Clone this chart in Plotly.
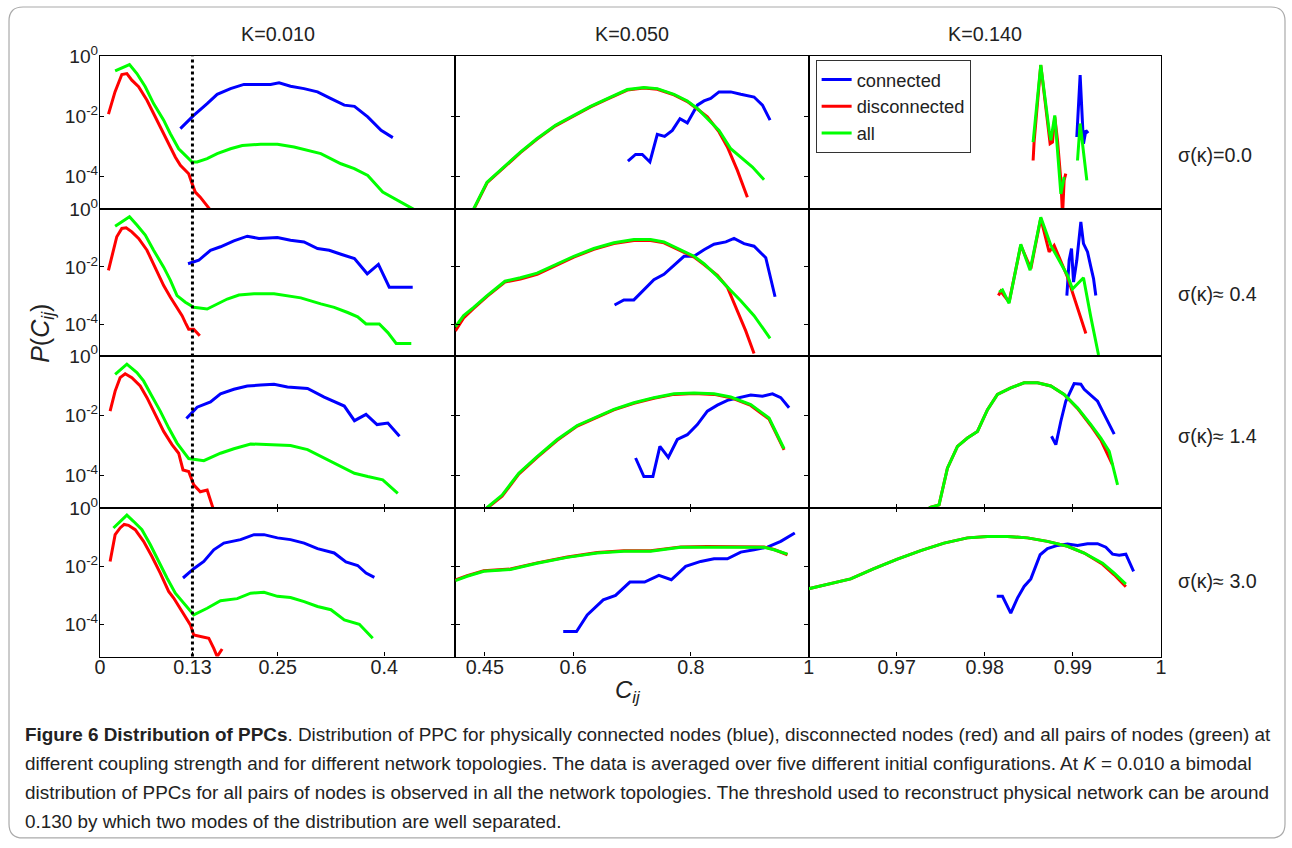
import plotly.graph_objects as go
from plotly.subplots import make_subplots

# ---------------- data (C_ij, log10 P(C_ij)) ----------------
# K = 0.010
k1_s0_blue_c = [0.113, 0.1318, 0.1507, 0.1648, 0.1836, 0.2024, 0.226, 0.240, 0.2519, 0.268, 0.287, 0.306, 0.325, 0.3437, 0.358, 0.3767, 0.3955, 0.412]
k1_s0_blue_lp = [-2.41, -1.97, -1.58, -1.27, -1.08, -0.94, -0.94, -0.94, -0.89, -1.0, -1.08, -1.19, -1.41, -1.63, -1.67, -2.02, -2.47, -2.71]
k1_s0_red_c = [0.0118, 0.021, 0.0306, 0.0377, 0.0447, 0.0542, 0.066, 0.0777, 0.0895, 0.0965, 0.106, 0.113, 0.120, 0.1247, 0.1295, 0.134, 0.141, 0.148, 0.155, 0.162]
k1_s0_red_lp = [-1.93, -1.19, -0.61, -0.58, -0.80, -1.02, -1.47, -2.02, -2.58, -2.91, -3.36, -3.63, -3.80, -3.91, -4.24, -4.52, -4.69, -4.91, -5.11, -5.4]
k1_s0_green_c = [0.0212, 0.0414, 0.0518, 0.0636, 0.0753, 0.0895, 0.0989, 0.1106, 0.120, 0.1295, 0.1366, 0.1507, 0.1648, 0.1836, 0.2001, 0.226, 0.2496, 0.273, 0.3107, 0.339, 0.3578, 0.3767, 0.3978, 0.4237, 0.4426, 0.452]
k1_s0_green_lp = [-0.49, -0.28, -0.58, -1.02, -1.58, -2.13, -2.58, -3.08, -3.30, -3.52, -3.52, -3.41, -3.24, -3.08, -2.97, -2.93, -2.93, -3.02, -3.24, -3.58, -3.74, -3.97, -4.52, -4.86, -5.11, -5.3]

k1_s1_blue_c = [0.1238, 0.1389, 0.1554, 0.1695, 0.1883, 0.2072, 0.2236, 0.2495, 0.268, 0.287, 0.306, 0.3225, 0.339, 0.358, 0.376, 0.3917, 0.407, 0.440]
k1_s1_blue_lp = [-1.89, -1.77, -1.42, -1.30, -1.09, -0.93, -1.01, -0.98, -1.07, -1.13, -1.36, -1.42, -1.56, -1.71, -2.24, -1.91, -2.71, -2.71]
k1_s1_red_c = [0.0118, 0.0188, 0.0235, 0.0306, 0.0367, 0.0447, 0.0542, 0.066, 0.0777, 0.0895, 0.099, 0.1083, 0.1154, 0.120, 0.1247, 0.1318, 0.1403]
k1_s1_red_lp = [-2.12, -1.42, -0.95, -0.66, -0.64, -0.78, -1.01, -1.42, -2.01, -2.65, -3.06, -3.41, -3.70, -3.94, -4.17, -4.17, -4.40]
k1_s1_green_c = [0.0212, 0.0414, 0.0518, 0.0636, 0.0753, 0.0895, 0.099, 0.1083, 0.120, 0.1318, 0.1507, 0.1648, 0.179, 0.1954, 0.2166, 0.2448, 0.2637, 0.2825, 0.3107, 0.3295, 0.3484, 0.3625, 0.3743, 0.393, 0.405, 0.4167, 0.438]
k1_s1_green_lp = [-0.58, -0.25, -0.54, -0.89, -1.42, -2.01, -2.47, -3.0, -3.23, -3.41, -3.47, -3.29, -3.12, -2.98, -2.94, -2.94, -3.0, -3.08, -3.29, -3.41, -3.59, -3.74, -3.99, -3.99, -4.29, -4.67, -4.67]

k1_s2_blue_c = [0.1215, 0.1366, 0.1554, 0.1695, 0.1883, 0.2072, 0.226, 0.2448, 0.2637, 0.292, 0.3154, 0.3437, 0.358, 0.3743, 0.3898, 0.405, 0.4214]
k1_s2_blue_lp = [-2.10, -1.72, -1.54, -1.27, -1.12, -1.01, -0.98, -0.95, -1.04, -1.09, -1.38, -1.68, -2.17, -1.96, -2.30, -2.25, -2.69]
k1_s2_red_c = [0.0141, 0.0212, 0.0282, 0.0353, 0.0447, 0.0565, 0.066, 0.0777, 0.0895, 0.1012, 0.1106, 0.1167, 0.1247, 0.1318, 0.141, 0.1507, 0.160, 0.163]
k1_s2_red_lp = [-1.85, -1.18, -0.73, -0.60, -0.73, -1.01, -1.40, -1.96, -2.53, -2.97, -3.26, -3.82, -3.87, -4.32, -4.55, -4.49, -5.11, -5.4]
k1_s2_green_c = [0.0212, 0.0377, 0.0518, 0.0612, 0.073, 0.0847, 0.0965, 0.1083, 0.1247, 0.146, 0.1695, 0.1883, 0.2119, 0.2354, 0.268, 0.292, 0.3154, 0.339, 0.358, 0.3767, 0.3978, 0.419]
k1_s2_green_lp = [-0.62, -0.28, -0.56, -0.84, -1.35, -1.85, -2.41, -2.92, -3.44, -3.51, -3.26, -3.11, -2.95, -2.97, -3.0, -3.14, -3.42, -3.70, -3.93, -4.04, -4.15, -4.60]

k1_s3_blue_c = [0.1167, 0.1318, 0.146, 0.160, 0.1742, 0.1977, 0.2166, 0.2307, 0.2496, 0.268, 0.2872, 0.306, 0.3295, 0.346, 0.3625, 0.3743, 0.386]
k1_s3_blue_lp = [-2.40, -2.08, -1.83, -1.43, -1.20, -1.08, -0.91, -0.91, -1.02, -1.08, -1.20, -1.39, -1.54, -1.85, -1.97, -2.23, -2.38]
k1_s3_red_c = [0.0141, 0.0212, 0.0282, 0.0339, 0.04, 0.0494, 0.0612, 0.073, 0.0847, 0.0965, 0.1036, 0.113, 0.12, 0.1271, 0.1318, 0.1412, 0.153, 0.160, 0.1648, 0.1718]
k1_s3_red_lp = [-1.83, -0.91, -0.68, -0.56, -0.59, -0.74, -1.14, -1.66, -2.23, -2.86, -3.09, -3.44, -3.72, -4.01, -4.36, -4.41, -4.47, -4.82, -5.10, -4.84]
k1_s3_green_c = [0.0188, 0.0377, 0.047, 0.0589, 0.0706, 0.0824, 0.0942, 0.1059, 0.1177, 0.1318, 0.1507, 0.1695, 0.193, 0.2119, 0.2307, 0.2496, 0.268, 0.2872, 0.306, 0.3249, 0.3437, 0.3649, 0.3837]
k1_s3_green_lp = [-0.68, -0.24, -0.45, -0.74, -1.25, -1.83, -2.40, -2.92, -3.26, -3.67, -3.44, -3.18, -3.11, -2.92, -2.89, -3.03, -3.07, -3.21, -3.38, -3.49, -3.84, -3.99, -4.47]

# K = 0.050
k2_s0_blue_c = [0.6931, 0.7061, 0.7175, 0.7304, 0.743, 0.7554, 0.7685, 0.7815, 0.794, 0.811, 0.8223, 0.8337, 0.8478, 0.8677, 0.8847, 0.9073, 0.9216, 0.9345]
k2_s0_blue_lp = [-3.49, -3.27, -3.27, -3.52, -2.60, -2.67, -2.47, -2.08, -2.22, -1.63, -1.49, -1.41, -1.19, -1.19, -1.27, -1.36, -1.63, -2.13]
k2_s0_red_c = [0.425, 0.4311, 0.4539, 0.4822, 0.5105, 0.5389, 0.570, 0.6012, 0.6296, 0.658, 0.692, 0.7202, 0.743, 0.7713, 0.794, 0.811, 0.828, 0.8478, 0.862, 0.879, 0.896]
k2_s0_red_lp = [-5.4, -5.10, -4.21, -3.71, -3.21, -2.76, -2.32, -1.99, -1.69, -1.43, -1.13, -1.06, -1.10, -1.29, -1.51, -1.76, -2.02, -2.52, -3.02, -3.80, -4.69]
k2_s0_green_c = [0.425, 0.4311, 0.4539, 0.4822, 0.5105, 0.5389, 0.570, 0.6012, 0.6296, 0.658, 0.692, 0.7202, 0.743, 0.7713, 0.794, 0.811, 0.828, 0.8478, 0.8677, 0.8847, 0.9046, 0.9243]
k2_s0_green_lp = [-5.4, -5.08, -4.19, -3.69, -3.19, -2.74, -2.30, -1.97, -1.67, -1.41, -1.11, -1.04, -1.08, -1.27, -1.49, -1.74, -2.08, -2.47, -3.08, -3.36, -3.69, -4.11]

k2_s1_blue_c = [0.6704, 0.6862, 0.7032, 0.7202, 0.7372, 0.7543, 0.7713, 0.7883, 0.8054, 0.8223, 0.8393, 0.8594, 0.8733, 0.8903, 0.9073, 0.9272, 0.943]
k2_s1_blue_lp = [-3.33, -3.15, -3.15, -2.80, -2.45, -2.26, -1.95, -1.63, -1.63, -1.40, -1.21, -1.13, -1.01, -1.19, -1.28, -1.68, -3.04]
k2_s1_red_c = [0.4, 0.4141, 0.4311, 0.4539, 0.4842, 0.5105, 0.5389, 0.5672, 0.6012, 0.6352, 0.6692, 0.7032, 0.7316, 0.7543, 0.7827, 0.8054, 0.8223, 0.845, 0.862, 0.879, 0.8932, 0.9073]
k2_s1_red_lp = [-4.23, -3.78, -3.45, -3.03, -2.53, -2.42, -2.26, -1.98, -1.66, -1.39, -1.19, -1.08, -1.08, -1.16, -1.43, -1.66, -1.92, -2.29, -2.71, -3.53, -4.23, -5.02]
k2_s1_green_c = [0.4, 0.4141, 0.4311, 0.4539, 0.4842, 0.5105, 0.5389, 0.5672, 0.6012, 0.6352, 0.6692, 0.7032, 0.7316, 0.7543, 0.7827, 0.8054, 0.8223, 0.845, 0.8677, 0.8847, 0.9073, 0.9345]
k2_s1_green_lp = [-4.09, -3.70, -3.41, -3.0, -2.50, -2.38, -2.22, -1.95, -1.63, -1.36, -1.16, -1.05, -1.05, -1.13, -1.40, -1.63, -1.89, -2.33, -2.82, -3.18, -3.70, -4.49]

k2_s2_blue_c = [0.7061, 0.7202, 0.7355, 0.7474, 0.7617, 0.777, 0.794, 0.811, 0.828, 0.845, 0.862, 0.8818, 0.9017, 0.9216, 0.9386, 0.9527, 0.9668]
k2_s2_blue_lp = [-3.42, -4.04, -4.04, -3.03, -3.40, -2.80, -2.64, -2.30, -1.85, -1.65, -1.49, -1.40, -1.31, -1.35, -1.27, -1.40, -1.74]
k2_s2_red_c = [0.44, 0.4539, 0.4794, 0.5077, 0.5389, 0.573, 0.607, 0.641, 0.6692, 0.7032, 0.7372, 0.7713, 0.8054, 0.8393, 0.8677, 0.9017, 0.9328, 0.9583]
k2_s2_red_lp = [-5.5, -5.10, -4.70, -3.96, -3.40, -2.83, -2.35, -2.04, -1.81, -1.59, -1.42, -1.29, -1.26, -1.29, -1.40, -1.66, -2.12, -3.15]
k2_s2_green_c = [0.44, 0.4539, 0.4794, 0.5077, 0.5389, 0.573, 0.607, 0.641, 0.6692, 0.7032, 0.7372, 0.7713, 0.8054, 0.8393, 0.8677, 0.9017, 0.9328, 0.9583]
k2_s2_green_lp = [-5.5, -5.08, -4.66, -3.93, -3.37, -2.80, -2.33, -2.02, -1.79, -1.57, -1.40, -1.27, -1.24, -1.27, -1.38, -1.63, -2.08, -3.11]

k2_s3_blue_c = [0.5832, 0.6058, 0.624, 0.6512, 0.6721, 0.6964, 0.7214, 0.7457, 0.7668, 0.7912, 0.8167, 0.8393, 0.862, 0.8847, 0.9073, 0.930, 0.9527, 0.9765]
k2_s3_blue_lp = [-4.24, -4.24, -3.67, -3.15, -3.0, -2.54, -2.54, -2.31, -2.46, -2.0, -1.83, -1.74, -1.74, -1.51, -1.43, -1.34, -1.14, -0.85]
k2_s3_red_c = [0.4, 0.420, 0.4482, 0.4935, 0.5389, 0.59, 0.641, 0.6862, 0.7316, 0.7827, 0.828, 0.8733, 0.9243, 0.9413, 0.9641]
k2_s3_red_lp = [-2.47, -2.32, -2.15, -2.09, -1.88, -1.68, -1.52, -1.46, -1.46, -1.33, -1.32, -1.32, -1.33, -1.42, -1.60]
k2_s3_green_c = [0.4, 0.420, 0.4482, 0.4935, 0.5389, 0.59, 0.641, 0.6862, 0.7316, 0.7827, 0.828, 0.8733, 0.9243, 0.9413, 0.9641]
k2_s3_green_lp = [-2.49, -2.34, -2.17, -2.11, -1.89, -1.69, -1.54, -1.48, -1.48, -1.34, -1.34, -1.34, -1.34, -1.43, -1.58]

# K = 0.140
k3_s0_blue_c = [0.99045, 0.99083, 0.99121, 0.99148, 0.99174]
k3_s0_blue_lp = [-2.69, -0.63, -2.91, -2.47, -2.56]
k3_s0_red_c = [0.98549, 0.9856, 0.98636, 0.98712, 0.98742, 0.98769, 0.98795, 0.98826, 0.98864, 0.98883, 0.98901, 0.98920]
k3_s0_red_lp = [-3.47, -2.86, -0.30, -2.13, -2.91, -2.86, -2.02, -2.80, -4.13, -5.3, -4.13, -3.91]
k3_s0_green_c = [0.98549, 0.98636, 0.98731, 0.9875, 0.98795, 0.98845, 0.98864, 0.98901, None, 0.99053, 0.99083, 0.99159]
k3_s0_green_lp = [-2.86, -0.29, -2.47, -2.80, -1.97, -3.69, -4.58, -4.02, None, -3.47, -2.24, -4.13]

k3_s1_blue_c = [0.98932, 0.98958, 0.98985, 0.99008, 0.99045, 0.99072, 0.99091, 0.99121, 0.99148, 0.99167, 0.99205, 0.99235, 0.99261]
k3_s1_blue_lp = [-3.0, -1.77, -1.36, -2.53, -1.77, -0.89, -0.43, -1.19, -1.36, -1.48, -2.01, -2.41, -3.0]
k3_s1_red_c = [0.98155, 0.98182, 0.98276, 0.98409, 0.98523, 0.98636, 0.98731, 0.98788, 0.9894, 0.99053, 0.99148]
k3_s1_red_lp = [-3.0, -2.85, -3.23, -1.25, -2.06, -0.31, -1.48, -1.25, -2.36, -3.41, -4.32]
k3_s1_green_c = [0.98163, 0.98201, 0.98276, 0.98409, 0.98515, 0.98636, 0.9875, 0.98845, 0.9894, 0.98996, 0.99121, 0.99205, 0.99292]
k3_s1_green_lp = [-2.88, -2.80, -3.27, -1.21, -2.12, -0.27, -1.25, -1.77, -2.30, -2.77, -2.38, -3.76, -5.07]

k3_s2_blue_c = [0.98758, 0.98807, 0.98864, 0.9892, 0.99015, 0.99091, 0.99129, 0.99224, 0.99281, 0.99356, 0.99470]
k3_s2_blue_lp = [-2.69, -2.97, -2.19, -1.52, -0.93, -0.95, -1.12, -1.35, -1.52, -1.96, -2.62]
k3_s2_red_c = [0.97367, 0.97481, 0.97576, 0.9769, 0.97803, 0.97917, 0.98031, 0.98144, 0.98295, 0.98447, 0.98599, 0.9875, 0.98901, 0.99053, 0.99205, 0.99318, 0.99451]
k3_s2_red_lp = [-5.08, -4.99, -3.76, -3.03, -2.75, -2.53, -1.80, -1.29, -1.07, -0.90, -0.90, -1.01, -1.29, -1.76, -2.34, -2.82, -3.65]
k3_s2_green_c = [0.97367, 0.97481, 0.97576, 0.9769, 0.97803, 0.97917, 0.98031, 0.98144, 0.98295, 0.98447, 0.98599, 0.9875, 0.98901, 0.99053, 0.99205, 0.99318, 0.99413, 0.99508]
k3_s2_green_lp = [-5.08, -4.99, -3.76, -3.03, -2.75, -2.53, -1.80, -1.29, -1.07, -0.90, -0.90, -1.01, -1.29, -1.74, -2.30, -2.75, -3.20, -4.32]

k3_s3_blue_c = [0.98136, 0.98201, 0.98295, 0.98371, 0.98447, 0.98523, 0.98629, 0.98712, 0.98826, 0.9894, 0.99053, 0.99167, 0.99281, 0.99375, 0.99451, 0.99527, 0.99602, 0.99690]
k3_s3_blue_lp = [-3.03, -3.03, -3.61, -3.09, -2.69, -2.43, -1.60, -1.39, -1.28, -1.23, -1.28, -1.22, -1.22, -1.34, -1.58, -1.62, -1.58, -2.17]
k3_s3_red_c = [0.96, 0.96212, 0.96477, 0.96742, 0.97008, 0.97273, 0.97538, 0.97803, 0.98031, 0.98258, 0.98485, 0.98712, 0.9894, 0.99129, 0.99338, 0.9947, 0.99602]
k3_s3_red_lp = [-2.77, -2.63, -2.43, -2.08, -1.75, -1.46, -1.20, -1.02, -0.97, -0.97, -1.02, -1.14, -1.31, -1.54, -1.93, -2.29, -2.70]
k3_s3_green_c = [0.96, 0.96212, 0.96477, 0.96742, 0.97008, 0.97273, 0.97538, 0.97803, 0.98031, 0.98258, 0.98485, 0.98712, 0.9894, 0.99129, 0.99338, 0.9947, 0.99602]
k3_s3_green_lp = [-2.77, -2.63, -2.43, -2.08, -1.75, -1.46, -1.20, -1.02, -0.97, -0.97, -1.02, -1.14, -1.31, -1.54, -1.89, -2.23, -2.61]

col_titles = ["K=0.010", "K=0.050", "K=0.140"]
row_labels = ["σ(κ)=0.0", "σ(κ)≈ 0.4", "σ(κ)≈ 1.4", "σ(κ)≈ 3.0"]
series_names = ["connected", "disconnected", "all"]
x_tickvals = [[0, 0.13, 0.25, 0.4], [0.45, 0.6, 0.8, 1.0], [0.97, 0.98, 0.99, 1.0]]
x_ticktext = [["0", "0.13", "0.25", "0.4"], ["0.45", "0.6", "0.8", "1"], ["0.97", "0.98", "0.99", "1"]]
y_tickvals = [1, 1e-2, 1e-4]
y_ticktext = ["10<sup>0</sup>", "10<sup>-2</sup>", "10<sup>-4</sup>"]
threshold = 0.13
caption_lines = [
    "<b>Figure 6 Distribution of PPCs</b>. Distribution of PPC for physically connected nodes (blue), disconnected nodes (red) and all pairs of nodes (green) at",
    "different coupling strength and for different network topologies. The data is averaged over five different initial configurations. At <i>K</i> = 0.010 a bimodal",
    "distribution of PPCs for all pairs of nodes is observed in all the network topologies. The threshold used to reconstruct physical network can be around",
    "0.130 by which two modes of the distribution are well separated.",
]

panels = {
    (1, 1): (k1_s0_blue_c, k1_s0_blue_lp, k1_s0_red_c, k1_s0_red_lp, k1_s0_green_c, k1_s0_green_lp),
    (2, 1): (k1_s1_blue_c, k1_s1_blue_lp, k1_s1_red_c, k1_s1_red_lp, k1_s1_green_c, k1_s1_green_lp),
    (3, 1): (k1_s2_blue_c, k1_s2_blue_lp, k1_s2_red_c, k1_s2_red_lp, k1_s2_green_c, k1_s2_green_lp),
    (4, 1): (k1_s3_blue_c, k1_s3_blue_lp, k1_s3_red_c, k1_s3_red_lp, k1_s3_green_c, k1_s3_green_lp),
    (1, 2): (k2_s0_blue_c, k2_s0_blue_lp, k2_s0_red_c, k2_s0_red_lp, k2_s0_green_c, k2_s0_green_lp),
    (2, 2): (k2_s1_blue_c, k2_s1_blue_lp, k2_s1_red_c, k2_s1_red_lp, k2_s1_green_c, k2_s1_green_lp),
    (3, 2): (k2_s2_blue_c, k2_s2_blue_lp, k2_s2_red_c, k2_s2_red_lp, k2_s2_green_c, k2_s2_green_lp),
    (4, 2): (k2_s3_blue_c, k2_s3_blue_lp, k2_s3_red_c, k2_s3_red_lp, k2_s3_green_c, k2_s3_green_lp),
    (1, 3): (k3_s0_blue_c, k3_s0_blue_lp, k3_s0_red_c, k3_s0_red_lp, k3_s0_green_c, k3_s0_green_lp),
    (2, 3): (k3_s1_blue_c, k3_s1_blue_lp, k3_s1_red_c, k3_s1_red_lp, k3_s1_green_c, k3_s1_green_lp),
    (3, 3): (k3_s2_blue_c, k3_s2_blue_lp, k3_s2_red_c, k3_s2_red_lp, k3_s2_green_c, k3_s2_green_lp),
    (4, 3): (k3_s3_blue_c, k3_s3_blue_lp, k3_s3_red_c, k3_s3_red_lp, k3_s3_green_c, k3_s3_green_lp),
}

# ---------------- layout geometry (reference pixels) ----------------
W, H = 1292, 848            # reference picture size: positions below are given in it
FIG_W, FIG_H = 1303, 863    # drawn size of the figure
COLX = [100, 455, 808, 1160]
ROWY = [56, 209, 355, 507, 655]
XRANGES = [[0, 0.5], [0.4, 1.0], [0.96, 1.0]]
YRANGE = [-5.1, 0]
COLORS = ["#0000ff", "#ff0000", "#00ff00"]
FONT = "Liberation Sans, Arial, sans-serif"


def px(x):
    return x / W


def py(y):
    return 1 - y / H


def to_p(vals):
    return [None if v is None else 10 ** v for v in vals]


fig = make_subplots(rows=4, cols=3, horizontal_spacing=0, vertical_spacing=0)

for (r, c), data in panels.items():
    for k in range(3):
        xs, lps = data[2 * k], data[2 * k + 1]
        fig.add_trace(
            go.Scatter(
                x=xs, y=to_p(lps), mode="lines", name=series_names[k],
                line=dict(color=COLORS[k], width=3), legendgroup=series_names[k],
                showlegend=(r == 1 and c == 3), connectgaps=False, hoverinfo="skip",
            ),
            row=r, col=c,
        )

for r in range(1, 5):
    for c in range(1, 4):
        idx = (r - 1) * 3 + c
        xname = "xaxis" if idx == 1 else f"xaxis{idx}"
        yname = "yaxis" if idx == 1 else f"yaxis{idx}"
        fig.layout[xname].update(
            domain=[px(COLX[c - 1]), px(COLX[c])], range=XRANGES[c - 1],
            showline=True, linecolor="#000", linewidth=1.3,
            mirror=("ticks" if r == 4 else True), showgrid=False, zeroline=False,
            ticks=("inside" if r >= 3 else ""), ticklen=4, tickcolor="#000",
            tickvals=x_tickvals[c - 1], ticktext=x_ticktext[c - 1],
            showticklabels=(r == 4), ticklabelstandoff=-7,
            tickfont=dict(size=19.7, color="#222", family=FONT),
        )
        fig.layout[yname].update(
            domain=[py(ROWY[r]), py(ROWY[r - 1])], type="log", range=YRANGE,
            showline=True, linecolor="#000", linewidth=1.3,
            mirror=("ticks" if c <= 2 else True), showgrid=False, zeroline=False,
            ticks=("inside" if c <= 2 else ""), ticklen=4, tickcolor="#000",
            tickvals=y_tickvals, ticktext=y_ticktext,
            showticklabels=(c == 1), ticklabelstandoff=-3,
            tickfont=dict(size=19.2, color="#222", family=FONT),
        )

shapes = []
# threshold dotted line
shapes.append(dict(type="line", xref="x", yref="paper", x0=threshold, x1=threshold,
                   y0=py(ROWY[4]), y1=py(ROWY[0]), line=dict(color="#000", width=3, dash="dot")))
# outer rounded frame
fx0, fy0, fx1, fy1, rad = 9, 7, 1284, 836, 14
rx, ry = rad / W, rad / H
path = (f"M {px(fx0)+rx},{py(fy0)} L {px(fx1)-rx},{py(fy0)} Q {px(fx1)},{py(fy0)} {px(fx1)},{py(fy0)-ry} "
        f"L {px(fx1)},{py(fy1)+ry} Q {px(fx1)},{py(fy1)} {px(fx1)-rx},{py(fy1)} "
        f"L {px(fx0)+rx},{py(fy1)} Q {px(fx0)},{py(fy1)} {px(fx0)},{py(fy1)+ry} "
        f"L {px(fx0)},{py(fy0)-ry} Q {px(fx0)},{py(fy0)} {px(fx0)+rx},{py(fy0)} Z")
shapes.append(dict(type="path", xref="paper", yref="paper", path=path,
                   line=dict(color="#aaaaaa", width=1.2), layer="below"))

annotations = []
for c in range(3):
    annotations.append(dict(x=px((COLX[c] + COLX[c + 1]) / 2), y=py(34), xref="paper", yref="paper",
                            text=col_titles[c], showarrow=False, xanchor="center", yanchor="middle",
                            font=dict(size=19.7, color="#222", family=FONT)))
row_label_y = [155, 293, 435, 580]
for r in range(4):
    annotations.append(dict(x=px(1175), y=py(row_label_y[r]), xref="paper", yref="paper",
                            text=row_labels[r], showarrow=False, xanchor="left", yanchor="middle",
                            font=dict(size=19.7, color="#222", family=FONT)))
annotations.append(dict(x=px(42), y=py(333), xref="paper", yref="paper",
                        text="<i>P</i>(<i>C</i><sub><i>ij</i></sub>)", showarrow=False, textangle=-90,
                        xanchor="center", yanchor="middle", font=dict(size=25, color="#222", family=FONT)))
annotations.append(dict(x=px(628), y=py(690), xref="paper", yref="paper",
                        text="<i>C</i><sub><i>ij</i></sub>", showarrow=False,
                        xanchor="center", yanchor="middle", font=dict(size=24, color="#222", family=FONT)))
cap_y = [733, 762, 791, 820]
for i, line in enumerate(caption_lines):
    annotations.append(dict(x=px(23), y=py(cap_y[i]), xref="paper", yref="paper", text=line,
                            showarrow=False, xanchor="left", yanchor="middle",
                            font=dict(size=18.9, color="#222", family=FONT)))

fig.update_layout(
    width=FIG_W, height=FIG_H, autosize=False, margin=dict(l=0, r=0, t=0, b=0),
    paper_bgcolor="white", plot_bgcolor="white",
    font=dict(family=FONT, color="#222"),
    shapes=shapes, annotations=annotations,
    legend=dict(x=px(815), y=py(60), xanchor="left", yanchor="top",
                bordercolor="#333", borderwidth=1, bgcolor="white",
                font=dict(size=18.3, color="#222", family=FONT), itemwidth=30, tracegroupgap=0),
)

fig.write_html(
    "out.html",
    config={"displayModeBar": False},
    post_script="document.body.style.margin='-13px 0 0 -5px';document.documentElement.style.overflow='hidden';document.body.style.overflow='hidden';",
)
